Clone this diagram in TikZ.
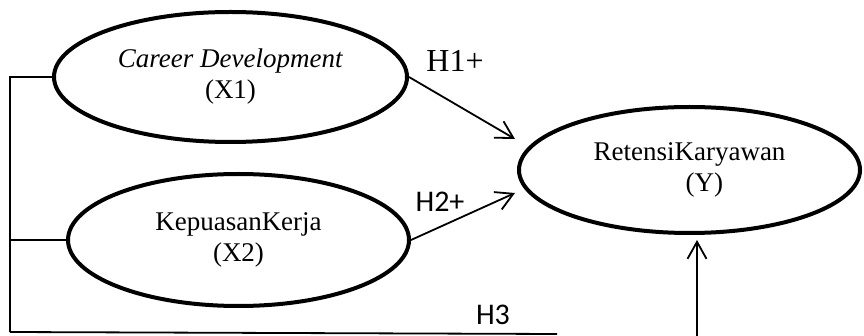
\documentclass[tikz,border=0pt]{standalone}
\usepackage{fontspec}
\setmainfont{Liberation Serif}
\newfontfamily\calibri{Carlito}
\usetikzlibrary{shapes.geometric,arrows.meta}
\begin{document}
\begin{tikzpicture}[x=1pt,y=-1pt,
    var/.style={ellipse, draw, line width=4pt, inner sep=0pt, align=center, font=\fontsize{27}{31}\selectfont},
    arr/.style={-{Straight Barb[length=17pt,width=19pt]}, line width=1.8pt},
    hyp/.style={font=\fontsize{32}{34}\selectfont}]
    \useasboundingbox (0,0) rectangle (864,336);
    \node[var, minimum width=353pt, minimum height=130pt] (X1) at (230.5,77) {\textit{Career Development}\\(X1)};
    \node[var, minimum width=341pt, minimum height=132pt] (X2) at (238.5,240) {KepuasanKerja\\(X2)};
    \node[var, minimum width=341pt, minimum height=126pt] (Y) at (689.5,170) {RetensiKaryawan\\\hspace*{1.1em}(Y)};
    \coordinate (t1) at (515,139);
    \coordinate (t2) at (515,193);
    \coordinate (corner) at (10,332);
    \coordinate (h3end) at (557,334);
    \coordinate (yfoot) at (697,337);
    \draw[arr] (X1.east) -- (t1);
    \draw[arr] (X2.east) -- (t2);
    \draw[line width=1.3pt] (X1.west) -- (X1.west -| corner) -- (corner);
    \draw[line width=1.3pt] (X2.west) -- (X2.west -| corner);
    \draw[line width=1.8pt] (corner) -- (h3end);
    \draw[arr, shorten >=5pt] (yfoot) -- (yfoot |- Y.south);
    \node[hyp] (h1) at (455,61) {H1+};
    \node[hyp, font=\calibri\fontsize{30}{32}\selectfont] (h2) at (440,202) {H2+};
    \node[hyp, font=\calibri\fontsize{30}{32}\selectfont] (h3) at (493,315) {H3};
\end{tikzpicture}
\end{document}
